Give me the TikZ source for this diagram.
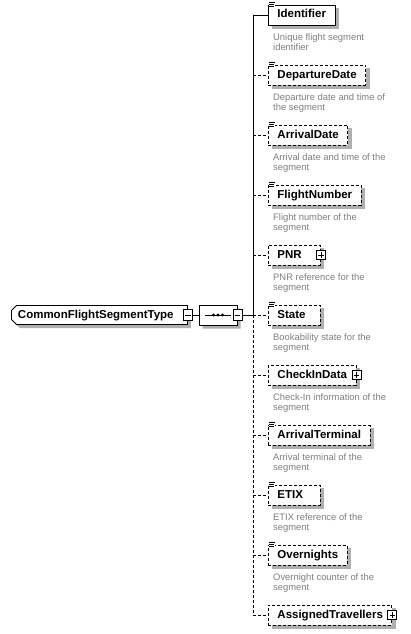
\documentclass[tikz,border=0pt]{standalone}
\usepackage{fontspec}
\setsansfont{Liberation Sans}
\usetikzlibrary{shapes.misc,positioning}
\definecolor{descGray}{RGB}{128,128,128}
\definecolor{shadowGray}{RGB}{175,175,175}
\pgfdeclarelayer{paper}
\pgfdeclarelayer{shade}
\pgfsetlayers{paper,shade,main}
% small "documentation" mark in the top left corner of an element box
\newcommand{\docmark}[1]{%
  \fill[white] ([xshift=0.5pt,yshift=4pt]#1.north west) rectangle ([xshift=7pt,yshift=-3.5pt]#1.north west);
  \draw[line width=0.7pt] ([xshift=1pt,yshift=2.5pt]#1.north west) -- ([xshift=7pt,yshift=2.5pt]#1.north west)
    ([xshift=1pt,yshift=0.3pt]#1.north west) -- ([xshift=6pt,yshift=0.3pt]#1.north west)
    ([xshift=1pt,yshift=-1.9pt]#1.north west) -- ([xshift=6pt,yshift=-1.9pt]#1.north west);}
% grey shadow behind a box
\newcommand{\boxshade}[1]{%
  \begin{pgfonlayer}{shade}
    \fill[shadowGray] ([shift={(3.5pt,-3.5pt)}]#1.south west) rectangle ([shift={(3.5pt,-3.5pt)}]#1.north east);
  \end{pgfonlayer}}

\begin{document}
\begin{tikzpicture}[
  x=1pt,y=-1pt,
  every node/.style={font=\sffamily},
  elem/.style={draw,line width=0.9pt,fill=white,anchor=west,minimum height=20pt,
    inner xsep=9pt,inner ysep=0pt,text height=8.5pt,text depth=2.5pt,
    font=\sffamily\bfseries\fontsize{11.5}{13}\selectfont},
  optelem/.style={elem,dash pattern=on 3pt off 2pt},
  shortbox/.style={text width=34pt,align=left},
  desc/.style={inner sep=0pt,align=left,text=descGray,font=\sffamily\fontsize{9.4}{10.5}\selectfont},
  rootbox/.style={chamfered rectangle,chamfered rectangle corners={north west,south west},
    chamfered rectangle xsep=2.5pt,chamfered rectangle ysep=2.5pt,draw,line width=0.9pt,fill=white,anchor=west,
    minimum height=19pt,inner xsep=4pt,inner ysep=0pt,text width=163pt,align=left,
    text height=8.5pt,text depth=2.5pt,font=\sffamily\bfseries\fontsize{11.5}{13}\selectfont},
  seqbox/.style={chamfered rectangle,chamfered rectangle xsep=6pt,chamfered rectangle ysep=6pt,draw,line width=0.9pt,
    fill=white,minimum width=38pt,minimum height=20pt,inner sep=0pt},
  plusbox/.style={draw,line width=0.9pt,fill=white,minimum size=9pt,inner sep=0pt,
    path picture={\draw[line width=0.8pt] ([xshift=1.8pt]path picture bounding box.west) -- ([xshift=-1.8pt]path picture bounding box.east)
      ([yshift=-1.8pt]path picture bounding box.north) -- ([yshift=1.8pt]path picture bounding box.south);}},
  minusbox/.style={draw,line width=0.9pt,fill=white,minimum width=9pt,minimum height=11pt,inner sep=0pt,
    path picture={\draw[line width=0.8pt] ([xshift=1.8pt]path picture bounding box.west) -- ([xshift=-1.8pt]path picture bounding box.east);}},
  link/.style={line width=0.9pt},
  optlink/.style={link,dash pattern=on 3pt off 2pt}
]
  \useasboundingbox (0,0) rectangle (411,634);
  \begin{pgfonlayer}{paper}
    \fill[white] (0,0) rectangle (411,634);
  \end{pgfonlayer}

  % type and sequence
  \node[rootbox] (root) at (11,315) {CommonFlightSegmentType};
  \node[minusbox] (rootminus) at (root.east) {};
  \node[seqbox] (seq) at (218,315) {};
  \node[minusbox] (seqminus) at (seq.east) {};
  \begin{pgfonlayer}{shade}
    \node[rootbox,draw=none,fill=shadowGray] (rootshade) at (14.5,318.5) {\phantom{CommonFlightSegmentType}};
    \node[seqbox,draw=none,fill=shadowGray] (seqshade) at (221.5,318.5) {};
  \end{pgfonlayer}
  \draw[link] (rootminus) -- (seq);
  \draw[link] ([xshift=6pt]seq.west) -- ([xshift=-6pt]seq.east);
  \fill ([xshift=-4.5pt]seq.center) circle (1.7pt);
  \fill (seq.center) circle (1.7pt);
  \fill ([xshift=4.5pt]seq.center) circle (1.7pt);
  \coordinate (spine) at (253,315);
  \draw[link] (seqminus) -- (spine);

  % elements
  \node[elem] (ident) at (268,15) {Identifier};
  \node[optelem] (depdate) at (268,75) {DepartureDate};
  \node[optelem] (arrdate) at (268,135) {ArrivalDate};
  \node[optelem] (flightno) at (268,195) {FlightNumber};
  \node[optelem,shortbox] (pnr) at (268,255) {PNR};
  \node[optelem,shortbox] (state) at (268,315) {State};
  \node[optelem] (checkin) at (268,375) {CheckInData};
  \node[optelem] (arrterm) at (268,435) {ArrivalTerminal};
  \node[optelem,shortbox] (etix) at (268,495) {ETIX};
  \node[optelem] (overn) at (268,555) {Overnights};
  \node[optelem] (travel) at (268,615) {AssignedTravellers};

  \boxshade{ident}
  \boxshade{depdate}
  \boxshade{arrdate}
  \boxshade{flightno}
  \boxshade{pnr}
  \boxshade{state}
  \boxshade{checkin}
  \boxshade{arrterm}
  \boxshade{etix}
  \boxshade{overn}
  \boxshade{travel}

  \node[plusbox] (pnrplus) at (pnr.east) {};
  \node[plusbox] (checkinplus) at (checkin.east) {};
  \node[plusbox] (travelplus) at (travel.east) {};

  \docmark{ident}
  \docmark{depdate}
  \docmark{arrdate}
  \docmark{flightno}
  \docmark{state}
  \docmark{arrterm}
  \docmark{etix}
  \docmark{overn}

  % spine and branches
  \draw[link] (ident.west -| spine) -- (spine);
  \draw[optlink] (spine) -- (travel.west -| spine);
  \draw[link] (ident.west -| spine) -- (ident.west);
  \draw[optlink] (depdate.west -| spine) -- (depdate.west);
  \draw[optlink] (arrdate.west -| spine) -- (arrdate.west);
  \draw[optlink] (flightno.west -| spine) -- (flightno.west);
  \draw[optlink] (pnr.west -| spine) -- (pnr.west);
  \draw[optlink] (spine) -- (state.west);
  \draw[optlink] (checkin.west -| spine) -- (checkin.west);
  \draw[optlink] (arrterm.west -| spine) -- (arrterm.west);
  \draw[optlink] (etix.west -| spine) -- (etix.west);
  \draw[optlink] (overn.west -| spine) -- (overn.west);
  \draw[optlink] (travel.west -| spine) -- (travel.west);

  % annotations
  \node[desc,below right=8pt and 5pt of ident.south west] (identdesc) {Unique flight segment\\identifier};
  \node[desc,below right=8pt and 5pt of depdate.south west] (depdatedesc) {Departure date and time of\\the segment};
  \node[desc,below right=8pt and 5pt of arrdate.south west] (arrdatedesc) {Arrival date and time of the\\segment};
  \node[desc,below right=8pt and 5pt of flightno.south west] (flightnodesc) {Flight number of the\\segment};
  \node[desc,below right=8pt and 5pt of pnr.south west] (pnrdesc) {PNR reference for the\\segment};
  \node[desc,below right=8pt and 5pt of state.south west] (statedesc) {Bookability state for the\\segment};
  \node[desc,below right=8pt and 5pt of checkin.south west] (checkindesc) {Check-In information of the\\segment};
  \node[desc,below right=8pt and 5pt of arrterm.south west] (arrtermdesc) {Arrival terminal of the\\segment};
  \node[desc,below right=8pt and 5pt of etix.south west] (etixdesc) {ETIX reference of the\\segment};
  \node[desc,below right=8pt and 5pt of overn.south west] (ovendesc) {Overnight counter of the\\segment};
\end{tikzpicture}
\end{document}
